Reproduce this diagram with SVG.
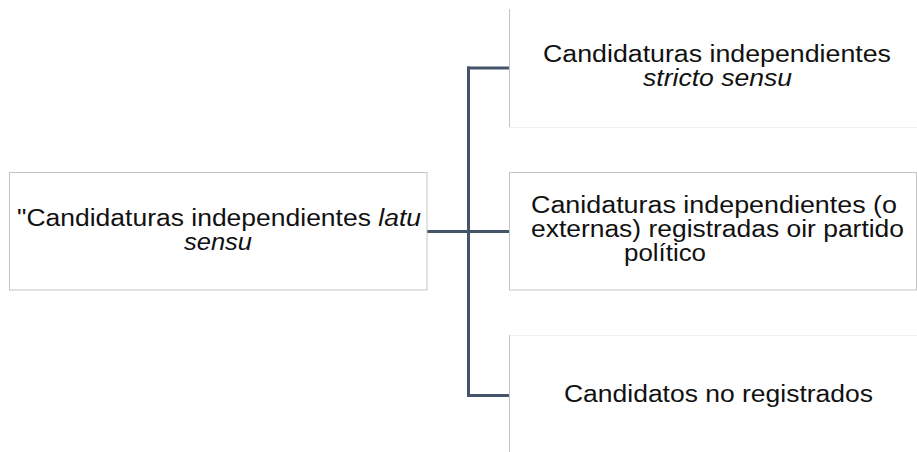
<svg xmlns="http://www.w3.org/2000/svg" width="917" height="452" viewBox="0 0 917 452">
<style>
.t{font-family:"Liberation Sans",Arial,sans-serif;font-size:23px;fill:#111;}
.i{font-style:italic;}
.box{fill:#fff;stroke:#c4c4c4;stroke-width:1;}
.faint{stroke:#f0f0f0;stroke-width:1;fill:none;}
.edge{stroke:#c4c4c4;stroke-width:1;fill:none;}
.c{stroke:#44546a;stroke-width:3;fill:none;}
</style>
<rect width="917" height="452" fill="#fff"/>
<g id="connectors">
<line class="c" x1="468.5" y1="66.5" x2="468.5" y2="397"/>
<line class="c" x1="467" y1="68" x2="509" y2="68"/>
<line class="c" x1="467" y1="395.5" x2="509" y2="395.5"/>
<line class="c" x1="427" y1="231.5" x2="509" y2="231.5" stroke-width="2.5"/>
</g>
<g id="root">
<rect class="box" x="9.5" y="172.5" width="417.5" height="117.5"/>
<text class="t" x="17" y="226" textLength="404" lengthAdjust="spacingAndGlyphs">"Candidaturas independientes <tspan class="i">latu</tspan></text>
<text class="t i" x="184" y="250" textLength="68" lengthAdjust="spacingAndGlyphs">sensu</text>
</g>
<g id="stricto">
<line class="edge" x1="509.5" y1="9" x2="509.5" y2="127"/>
<line class="faint" x1="509.5" y1="127.5" x2="917" y2="127.5"/>
<text class="t" x="543" y="62" textLength="348" lengthAdjust="spacingAndGlyphs">Candidaturas independientes</text>
<text class="t i" x="643" y="86" textLength="149" lengthAdjust="spacingAndGlyphs">stricto sensu</text>
</g>
<g id="externas">
<rect class="box" x="509.5" y="172.5" width="407" height="117.5"/>
<text class="t" x="531" y="213" textLength="366" lengthAdjust="spacingAndGlyphs">Canidaturas independientes (o</text>
<text class="t" x="531" y="237" textLength="373" lengthAdjust="spacingAndGlyphs">externas) registradas oir partido</text>
<text class="t" x="624" y="261" textLength="82" lengthAdjust="spacingAndGlyphs">político</text>
</g>
<g id="noregistrados">
<line class="faint" x1="509.5" y1="335.5" x2="917" y2="335.5"/>
<line class="edge" x1="509.5" y1="335" x2="509.5" y2="452"/>
<text class="t" x="564" y="402" textLength="309" lengthAdjust="spacingAndGlyphs">Candidatos no registrados</text>
</g>
</svg>
